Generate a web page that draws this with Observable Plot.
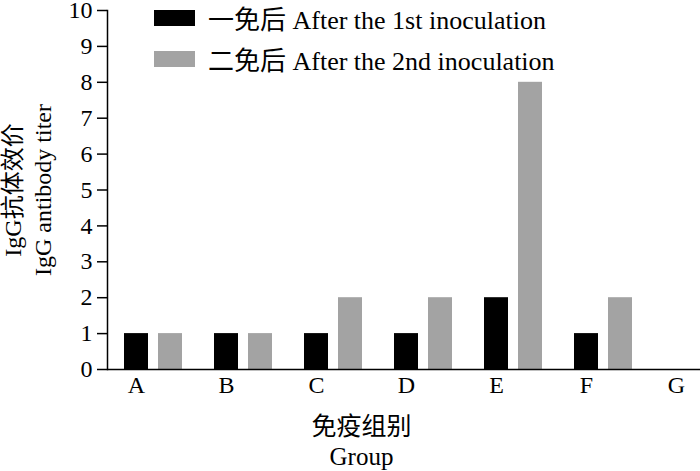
<!DOCTYPE html>
<html>
<head>
<meta charset="utf-8">
<script src="https://cdn.jsdelivr.net/npm/d3@7"></script>
<script src="https://cdn.jsdelivr.net/npm/@observablehq/plot@0.6"></script>
<style>
  html, body { margin: 0; padding: 0; background: #fff; }
  #wrap { position: relative; width: 700px; height: 471px; overflow: hidden; font-family: "Liberation Serif", "Noto Sans CJK SC", serif; }
  #chart svg { max-width: none !important; }
  #legend { position: absolute; left: 154px; top: -3px; font-size: 26px; color: #000; }
  .row { display: flex; align-items: center; height: 41px; }
  .sw { width: 41px; height: 16px; margin-right: 13px; }
</style>
</head>
<body>
<div id="wrap"><div id="chart"></div><div id="legend"></div></div>
<script>
const groups = ["A", "B", "C", "D", "E", "F", "G"];
const firstDose = [1, 1, 1, 1, 2, 1, 0];
const secondDose = [1, 1, 2, 2, 8, 2, 0];
const yTicks = [0, 1, 2, 3, 4, 5, 6, 7, 8, 9, 10];
const seriesNames = ["一免后 After the 1st inoculation", "二免后 After the 2nd inoculation"];
const seriesColors = ["#000000", "#a3a3a3"];
const yTitle = "IgG抗体效价\nIgG antibody titer";
const xTitle = "免疫组别\nGroup";

const rows = groups.map((g, i) => ({group: g, first: firstDose[i], second: secondDose[i]}));
const font = "'Liberation Serif', 'Noto Sans CJK SC', serif";

const chart = Plot.plot({
  width: 737,
  height: 471,
  marginLeft: 107,
  marginRight: 0,
  marginTop: 10,
  marginBottom: 102,
  style: {fontFamily: font, fontSize: "24px", color: "#000", background: "#fff", overflow: "visible", maxWidth: "none"},
  x: {domain: groups, padding: 0, axis: null},
  y: {domain: [0, 10], axis: null},
  marks: [
    Plot.barY(rows, {x: "group", y: "first", fill: seriesColors[0], insetLeft: 17, insetRight: 49}),
    Plot.barY(rows, {x: "group", y: "second", fill: seriesColors[1], insetLeft: 51, insetRight: 15}),
    Plot.axisY({ticks: yTicks, tickSize: 10, tickPadding: 5, strokeWidth: 1.5, label: null, fontSize: 24, fontFamily: font}),
    Plot.axisX({tickSize: 0, tickPadding: 6, dx: -16, label: null, fontSize: 24, fontFamily: font}),
    Plot.frame({anchor: "left", strokeWidth: 1.5}),
    Plot.ruleY([0], {strokeWidth: 1.5}),
    Plot.text([yTitle], {frameAnchor: "left", rotate: -90, dx: -81, textAnchor: "middle", lineAnchor: "middle", lineHeight: 1.25, fontSize: 24, fontFamily: font}),
    Plot.text([xTitle], {frameAnchor: "bottom", dx: -61, dy: 44, textAnchor: "middle", lineAnchor: "top", lineHeight: 1.2, fontSize: 25, fontFamily: font})
  ]
});
document.getElementById("chart").appendChild(chart);

const legend = d3.select("#legend");
seriesNames.forEach((name, i) => {
  const row = legend.append("div").attr("class", "row");
  row.append("div").attr("class", "sw").style("background", seriesColors[i]);
  row.append("span").text(name);
});
</script>
</body>
</html>
